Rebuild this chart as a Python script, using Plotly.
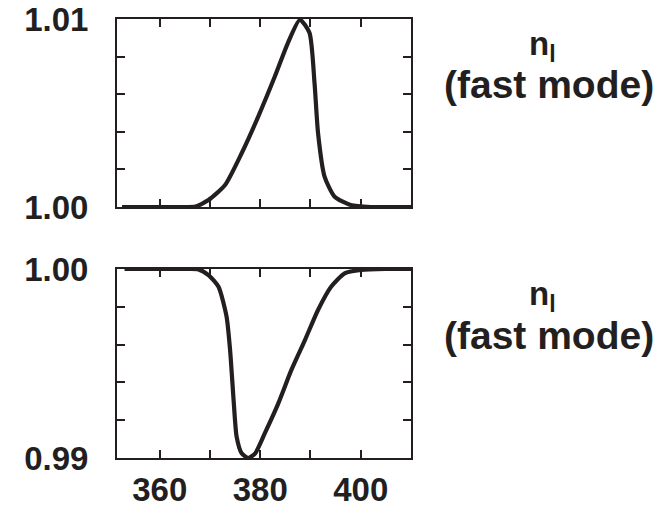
import plotly.graph_objects as go

# Top panel: n_l (fast mode), rising peak
x_top = [352.5, 360.0, 365.0, 367.1, 369.7, 373.0, 376.3, 379.6, 382.9, 385.5, 387.9,
         389.8, 390.8, 391.5, 392.8, 394.8, 398.0, 402.0, 410.0]
y_top = [1.0000, 1.0000, 1.0000, 1.00002, 1.00037, 1.00117, 1.00286, 1.00481, 1.00694,
         1.00872, 1.00996, 1.00927, 1.00661, 1.00394, 1.00162, 1.00055, 1.00011, 1.0000, 1.0000]

# Bottom panel: n_l (fast mode), dip
x_bot = [353.0, 360.0, 365.0, 367.7, 369.7, 371.7, 373.3, 374.0, 374.7, 375.3, 376.3,
         377.6, 379.0, 380.9, 383.6, 386.2, 388.9, 391.5, 394.1, 396.8, 400.1, 405.0, 410.0]
y_bot = [1.0000, 1.0000, 1.0000, 0.99998, 0.99968, 0.99906, 0.99748, 0.99572, 0.99307,
         0.99113, 0.99025, 0.99000, 0.99025, 0.99130, 0.99289, 0.99466, 0.99624, 0.99783,
         0.99906, 0.99977, 0.99995, 1.0000, 1.0000]

x_tickvals = [360, 370, 380, 390, 400]
x_ticktext = ["360", "", "380", "", "400"]
top_tickvals = [1.000, 1.002, 1.004, 1.006, 1.008, 1.010]
top_ticktext = ["1.00", "", "", "", "", "1.01"]
bot_tickvals = [0.990, 0.992, 0.994, 0.996, 0.998, 1.000]
bot_ticktext = ["0.99", "", "", "", "", "1.00"]
side_label_top = "n<sub>l</sub>"
side_label_bottom = "(fast mode)"

INK = "#231f20"
OFF = 8                      # default page body margin in the exported HTML
W, H = 663 - OFF, 513 - OFF
L, R, T, B = 117 - OFF, 251.5, 19 - OFF, 55
PW, PH = W - L - R, H - T - B

def px2paper(px, py):
    # convert screen pixel position to paper coordinates
    return (px - OFF - L) / PW, (H - B - (py - OFF)) / PH

fig = go.Figure()
line = dict(color=INK, width=4.2, shape="spline", smoothing=0.6)
fig.add_trace(go.Scatter(x=x_top, y=y_top, mode="lines", line=line, xaxis="x", yaxis="y",
                         showlegend=False, hoverinfo="skip"))
fig.add_trace(go.Scatter(x=x_bot, y=y_bot, mode="lines", line=line, xaxis="x2", yaxis="y2",
                         showlegend=False, hoverinfo="skip"))

tickfont = dict(family="Liberation Sans, Arial", size=33, color=INK, weight="bold")
common_x = dict(range=[351.5, 410], tickvals=x_tickvals, showline=True, linecolor=INK,
                linewidth=2, mirror="allticks", ticks="inside", ticklen=8, tickwidth=2,
                tickcolor=INK, showgrid=False, zeroline=False, tickfont=tickfont,
                automargin=False, ticklabeloverflow="allow")
common_y = dict(showline=True, linecolor=INK, linewidth=2, mirror="allticks", ticks="inside",
                ticklen=8, tickwidth=2, tickcolor=INK, showgrid=False, zeroline=False,
                tickfont=tickfont, ticklabelstandoff=20, automargin=False,
                ticklabeloverflow="allow")

top_dom = [1 - (207 - 19) / PH, 1]
bot_dom = [0, (458 - 269) / PH]

fig.update_layout(
    width=W, height=H, margin=dict(l=L, r=R, t=T, b=B, autoexpand=False),
    paper_bgcolor="white", plot_bgcolor="white",
    xaxis=dict(common_x, anchor="y", domain=[0, 1], showticklabels=False),
    yaxis=dict(common_y, anchor="x", domain=top_dom, range=[1.0, 1.01],
               tickvals=top_tickvals, ticktext=top_ticktext),
    xaxis2=dict(common_x, anchor="y2", domain=[0, 1], ticktext=x_ticktext,
                ticklabelstandoff=1),
    yaxis2=dict(common_y, anchor="x2", domain=bot_dom, range=[0.99, 1.0],
                tickvals=bot_tickvals, ticktext=bot_ticktext),
)

for dy in (0, 250):
    ax, ay = px2paper(543, 46 + dy)
    fig.add_annotation(text=side_label_top, x=ax, y=ay, xref="paper", yref="paper",
                       showarrow=False, xanchor="center", yanchor="middle",
                       font=dict(family="Liberation Sans, Arial", size=33, color=INK, weight="bold"))
    bx, by = px2paper(550, 85 + dy)
    fig.add_annotation(text=side_label_bottom, x=bx, y=by, xref="paper", yref="paper",
                       showarrow=False, xanchor="center", yanchor="middle",
                       font=dict(family="Liberation Sans, Arial", size=39, color=INK, weight="bold"))

fig.write_html("out.html")
